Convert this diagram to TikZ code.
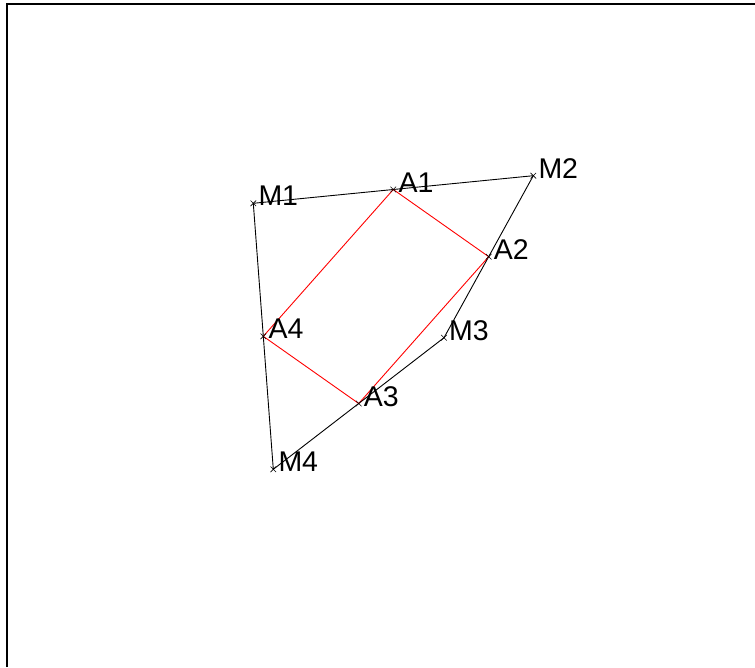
\documentclass[tikz,border=0pt]{standalone}
\usepackage{fontspec}
\setmainfont{Liberation Sans}
\usetikzlibrary{shapes.misc}
\begin{document}
\begin{tikzpicture}[x=1pt,y=-1pt,
  mk/.style={cross out,draw=black,line width=0.6pt,minimum size=5pt,inner sep=0pt},
  lbl/.style={anchor=base west,inner sep=0pt,font=\fontsize{28.5}{34}\selectfont},
  edge/.style={draw=black,line width=0.9pt},
  redge/.style={draw=red,line width=0.9pt}]
\useasboundingbox (0,0) rectangle (755,667);
\coordinate (F0) at (7,667);
\coordinate (F1) at (7,4);
\coordinate (F2) at (755,4);
\draw[line width=1.3pt] (F0) -- (F1) -- (F2);
\coordinate (M1) at (253.3,203.3);
\coordinate (M2) at (533.3,175.7);
\coordinate (M3) at (444.0,337.7);
\coordinate (M4) at (273.3,469.3);
\coordinate (A1) at (393.3,189.5);
\coordinate (A2) at (488.7,256.7);
\coordinate (A3) at (358.7,403.5);
\coordinate (A4) at (263.3,336.3);
\draw[edge] (M1) -- (M2) -- (M3) -- (M4) -- cycle;
\draw[redge] (A1) -- (A2) -- (A3) -- (A4) -- cycle;
\foreach \p in {M1,M2,M3,M4,A1,A2,A3,A4}{
  \node[mk] (mk\p) at (\p) {};
  \node[lbl] (t\p) at ([shift={(5,2.5)}]\p) {\p};
}
\end{tikzpicture}
\end{document}
